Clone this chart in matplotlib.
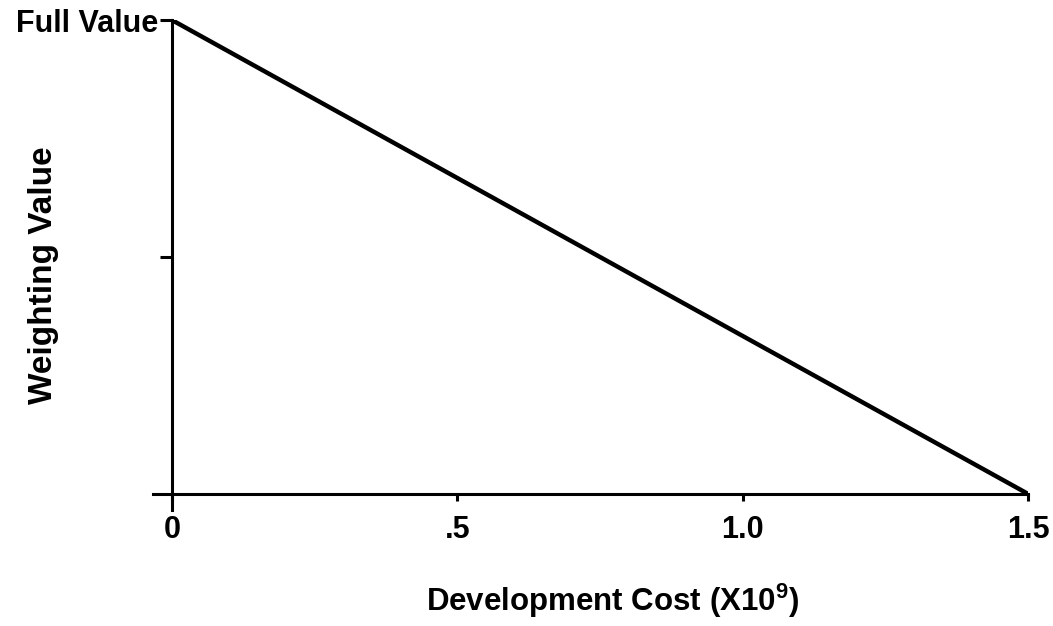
import matplotlib
matplotlib.use("Agg")
import matplotlib.pyplot as plt

# weighting value falls linearly from full value to zero with cost
cost = [0.0, 1.5]
weight = [1.0, 0.0]

xtick_pos = [0.0, 0.5, 1.0, 1.5]
xtick_labels = ["0", ".5", "1.0", "1.5"]

plt.rcParams["font.family"] = ["Liberation Sans", "DejaVu Sans"]
plt.rcParams["font.weight"] = "bold"
plt.rcParams["mathtext.default"] = "regular"

fig = plt.figure(figsize=(10.53, 6.26), dpi=100)
ax = fig.add_axes([153 / 1053, 116 / 626, (1028 - 153) / 1053, (510 - 20) / 626])

ax.plot(cost, weight, color="black", lw=3.2, solid_capstyle="round")

ax.set_xlim(-0.033, 1.5)
ax.set_ylim(-0.034, 1.0)

ax.spines["left"].set_position(("data", 0))
ax.spines["bottom"].set_position(("data", 0))
ax.spines["right"].set_visible(False)
ax.spines["top"].set_visible(False)
for s in ("left", "bottom"):
    ax.spines[s].set_linewidth(2.2)

ax.set_xticks(xtick_pos)
ax.set_xticklabels(xtick_labels, fontsize=22, fontweight="bold")
ax.tick_params(axis="x", length=5, width=2.2, direction="out", pad=10)

ax.set_yticks([0.5, 1.0])
ax.set_yticklabels(["", "Full Value"], fontsize=22, fontweight="bold")
ax.tick_params(axis="y", length=9, width=2.2, pad=1)

fig.text(44 / 1053, (626 - 275) / 626, "Weighting Value", rotation=90,
         ha="center", va="center", fontsize=24, fontweight="bold")
fig.text(613 / 1053, (626 - 611) / 626, "Development Cost (X10$^{9}$)",
         ha="center", va="baseline", fontsize=22.5, fontweight="bold")

fig.savefig("out.png", dpi=100)
